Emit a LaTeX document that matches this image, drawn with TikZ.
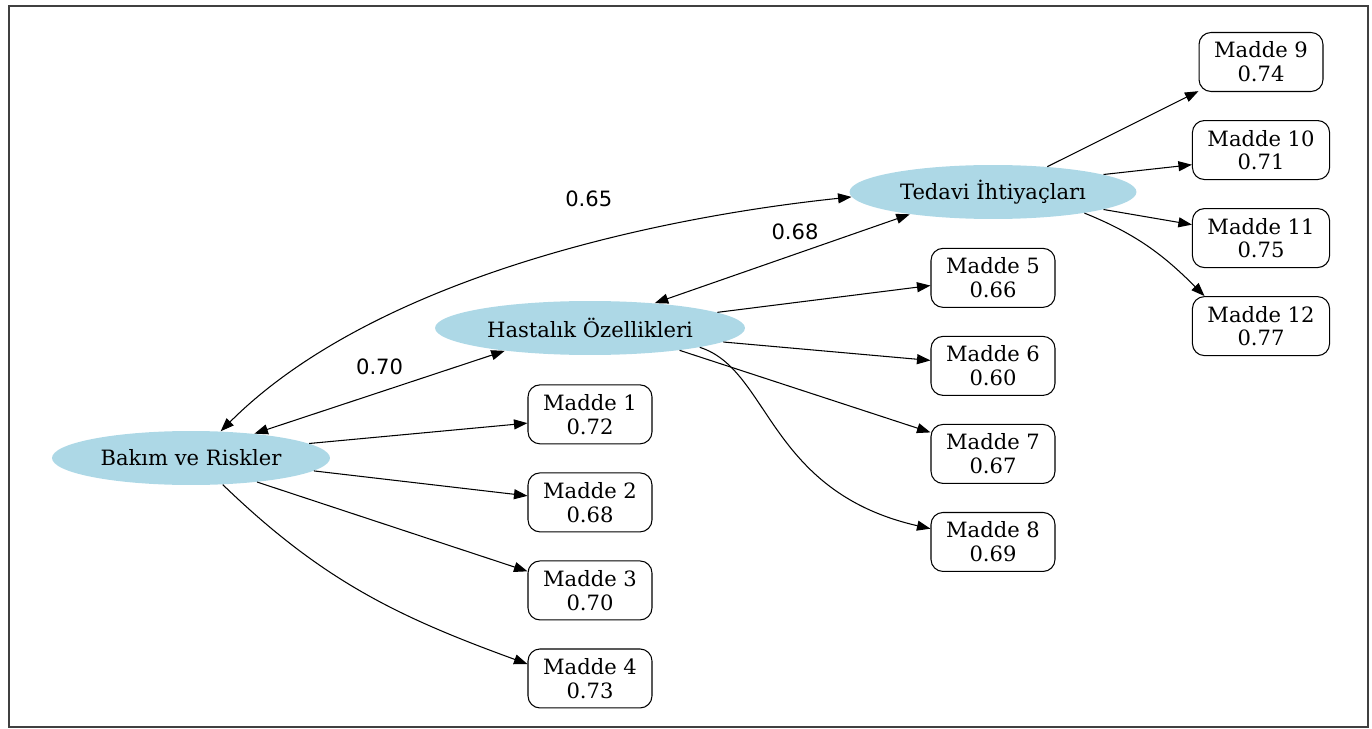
\documentclass[tikz,border=0pt]{standalone}
\usepackage{fontspec}
\setmainfont{DejaVu Serif}
\newfontfamily\labelfont{DejaVu Sans}
\usepackage{tikz}
\usetikzlibrary{positioning}
\usetikzlibrary{shapes.geometric}
\usetikzlibrary{arrows.meta}
\definecolor{hubblue}{HTML}{ADD8E6}

\begin{document}
\begin{tikzpicture}[
  x=0.02cm, y=-0.02cm,
  hub/.style={ellipse, fill=hubblue, inner sep=0pt, minimum height=1.08cm, font=\fontsize{12}{14}\selectfont},
  itembox/.style={draw, rounded corners=0.24cm, align=center, inner xsep=0.3cm, minimum width=2.48cm, minimum height=1.18cm, line width=0.6pt, font=\fontsize{12}{13.5}\selectfont},
  arrow/.style={-{Triangle[length=0.27cm, width=0.2cm]}, line width=0.6pt},
  twoway/.style={{Triangle[length=0.27cm, width=0.2cm]}-{Triangle[length=0.27cm, width=0.2cm]}, line width=0.6pt},
  wlabel/.style={font=\labelfont\fontsize{12}{14}\selectfont}
]
\useasboundingbox (0,0) rectangle (1372,729);
\draw[line width=1.1pt, black!75] (9,6) rectangle (1368,727);

% factors
\node[hub, minimum width=5.56cm] (bakim) at (191,458) {Bakım ve Riskler};
\node[hub, minimum width=6.2cm] (hastalik) at (590,328) {Hastalık Özellikleri};
\node[hub, minimum width=5.74cm] (tedavi) at (993,192) {Tedavi İhtiyaçları};

% items
\node[itembox, below=0.58cm of hastalik] (m1) {Madde 1\\0.72};
\node[itembox, below=0.56cm of m1] (m2) {Madde 2\\0.68};
\node[itembox, below=0.56cm of m2] (m3) {Madde 3\\0.70};
\node[itembox, below=0.56cm of m3] (m4) {Madde 4\\0.73};

\node[itembox, below=0.57cm of tedavi] (m5) {Madde 5\\0.66};
\node[itembox, below=0.56cm of m5] (m6) {Madde 6\\0.60};
\node[itembox, below=0.56cm of m6] (m7) {Madde 7\\0.67};
\node[itembox, below=0.56cm of m7] (m8) {Madde 8\\0.69};

\node[itembox] (m9) at (1261,62) {Madde 9\\0.74};
\node[itembox, below=0.56cm of m9] (m10) {Madde 10\\0.71};
\node[itembox, below=0.56cm of m10] (m11) {Madde 11\\0.75};
\node[itembox, below=0.56cm of m11] (m12) {Madde 12\\0.77};

% loadings
\draw[arrow] (bakim.7) -- (m1.188);
\draw[arrow] (bakim.-6) -- (m2.174);
\draw[arrow] (bakim.-20) -- (m3.163);
\draw[arrow] (bakim.-40) to[out=-44, in=160] (m4.167);

\draw[arrow] (hastalik.7) -- (m5.187);
\draw[arrow] (hastalik.-6) -- (m6.175);
\draw[arrow] (hastalik.-14) -- (m7.161);
\draw[arrow] (hastalik.-10) .. controls +(70,22) and +(-163,-37) .. (m8.168);

\draw[arrow] (tedavi.25) -- (m9.205);
\draw[arrow] (tedavi.9) -- (m10.192);
\draw[arrow] (tedavi.-9) -- (m11.169);
\draw[arrow] (tedavi.-13) to[out=-22, in=135] (m12.152);

% correlations
\draw[twoway] (bakim.21) -- node[wlabel, pos=0.5, yshift=0.5cm] {0.70} (hastalik.195);
\draw[twoway] (hastalik.21) -- node[wlabel, pos=0.55, yshift=0.45cm] {0.68} (tedavi.195);
\draw[twoway] (bakim.42) to[out=45, in=186, looseness=0.8] node[wlabel, pos=0.61, yshift=0.9cm] {0.65} (tedavi.182);

\end{tikzpicture}
\end{document}
